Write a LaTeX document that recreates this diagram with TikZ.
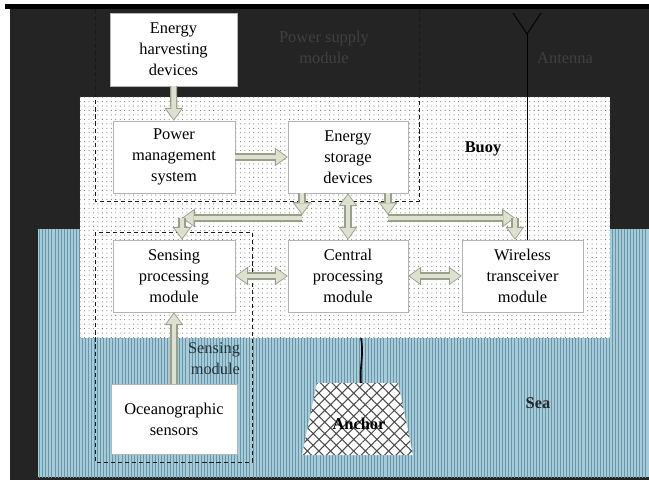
\documentclass[tikz,border=0pt]{standalone}
\usepackage{fontspec}
\setmainfont{Liberation Serif}
\usetikzlibrary{arrows.meta,patterns.meta}

\definecolor{nightbg}{HTML}{242424}
\definecolor{seablue}{HTML}{A6CCDA}
\definecolor{seastripe}{HTML}{6A94A8}
\definecolor{arrowfill}{HTML}{DDE2D0}
\definecolor{arrowedge}{HTML}{9A9F8A}
\definecolor{boxedge}{HTML}{B4B4B4}
\definecolor{dimtext}{HTML}{404040}

\tikzset{
    module/.style={rectangle,draw=boxedge,fill=white,minimum width=3.66cm,minimum height=2.16cm,
        align=center,font=\fontsize{14}{18}\selectfont},
    fat/.style={preaction={draw=arrowedge,line width=6pt,shorten >=0pt,
            -{Triangle[length=11pt,width=16pt,line width=0pt]}},
        draw=arrowfill,line width=4pt,shorten >=1.3pt,
        -{Triangle[length=8.6pt,width=12.5pt,line width=0pt]}},
    fatboth/.style={preaction={draw=arrowedge,line width=6pt,shorten >=0pt,shorten <=0pt,
            {Triangle[length=11pt,width=16pt,line width=0pt]}-{Triangle[length=11pt,width=16pt,line width=0pt]}},
        draw=arrowfill,line width=4pt,shorten >=1.3pt,shorten <=1.3pt,
        {Triangle[length=8.6pt,width=12.5pt,line width=0pt]}-{Triangle[length=8.6pt,width=12.5pt,line width=0pt]}},
    group/.style={draw=black!90,line width=0.8pt,dash pattern=on 3.5pt off 2.5pt},
    tag/.style={align=center,font=\fontsize{14}{18}\selectfont}
}

\begin{document}
\begin{tikzpicture}[x=0.03cm,y=-0.03cm]
    \useasboundingbox (0,0) rectangle (649,480);

    % Background: night sky, sea
    \fill[nightbg] (10,9) rectangle (649,480);
    \fill[black] (5,4) rectangle (649,9);
    \fill[seablue] (38,229) rectangle (649,477);
    \fill[pattern={Lines[angle=90,distance=2.6pt,line width=0.55pt]},pattern color=seastripe]
        (38,229) rectangle (649,477);

    % Buoy body
    \node[rectangle,fill=white,minimum width=15.9cm,minimum height=7.23cm,
        postaction={pattern={Dots[distance=3.8pt,radius=0.45pt]},pattern color=black!60}]
        (buoy) at (345,217.5) {};

    % Module groups
    \draw[group] (95,9) -- (95,201) -- (419,201) -- (419,9);
    \draw[group] (95,232) rectangle (252,462);

    % Blocks
    \node[module,minimum width=3.81cm,minimum height=2.19cm] (harv) at (173.5,49.5) {Energy\\harvesting\\devices};
    \node[module] (pm) at (174,157) {Power\\management\\system};
    \node[module,minimum width=3.6cm] (st) at (348,157) {Energy\\storage\\devices};
    \node[module] (sp) at (174,276) {Sensing\\processing\\module};
    \node[module,minimum width=3.6cm] (cp) at (348,276) {Central\\processing\\module};
    \node[module,minimum width=3.63cm] (wt) at (522.5,276) {Wireless\\transceiver\\module};
    \node[module,minimum width=3.78cm,minimum height=2.1cm] (oc) at (174,419) {Oceanographic\\sensors};

    % Antenna
    \coordinate (ant) at (527,34);
    \draw[line width=0.8pt] (513,13) -- (ant) -- (541,13);
    \draw[line width=0.8pt] (ant) -- (ant |- wt.north);

    % Energy flow
    \coordinate (sl) at (302,215);
    \coordinate (slh) at (302,218);
    \coordinate (sld) at (182,218);
    \coordinate (sr) at (388,215);
    \coordinate (srh) at (388,218);
    \coordinate (srd) at (515,218);
    \draw[fat] (harv) -- (pm);
    \draw[fat] (pm) -- (st);
    \draw[fat] (st.south -| sl) -- (sl);
    \draw[fat] (slh) -- (sld);
    \draw[fat] (sld) -- (sp.north -| sld);
    \draw[fatboth] (st) -- (cp);
    \draw[fat] (st.south -| sr) -- (sr);
    \draw[fat] (srh) -- (srd);
    \draw[fat] (srd) -- (wt.north -| srd);
    \draw[fatboth] (sp) -- (cp);
    \draw[fatboth] (cp) -- (wt);
    \draw[fat] (oc) -- (sp);

    % Anchor
    \coordinate (anctop) at (361,383);
    \fill[white] (317,383) -- (398,383) -- (413,455) -- (302,455) -- cycle;
    \fill[pattern={Hatch[angle=45,distance=7pt,line width=0.9pt]},pattern color=black!70]
        (317,383) -- (398,383) -- (413,455) -- (302,455) -- cycle;
    \node[font=\fontsize{14}{18}\selectfont\bfseries] (anc) at (359,424) {Anchor};
    \draw[line width=1.4pt] (buoy.south -| anctop) to[out=-80,in=95] (anctop);

    % Labels
    \node[tag,text=dimtext] (psm) at (324,47) {Power supply\\module};
    \node[tag,text=dimtext] (antl) at (565,58) {Antenna};
    \node[tag,font=\fontsize{14}{18}\selectfont\bfseries] (buoyl) at (483,149) {Buoy};
    \node[tag,font=\fontsize{14}{18}\selectfont\bfseries,text=black!85] (seal) at (538,403) {Sea};
    \node[tag,align=right,text=black!65!seastripe] (sml) at (214,359) {Sensing\\module};
\end{tikzpicture}
\end{document}
